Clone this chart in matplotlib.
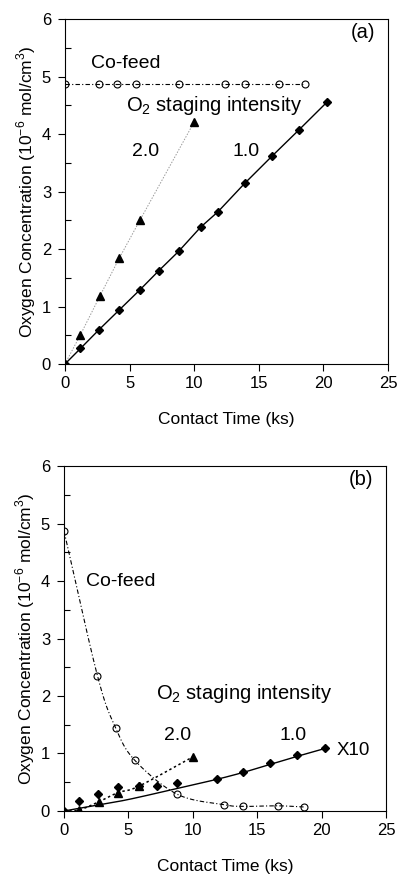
import numpy as np
import matplotlib
matplotlib.use("Agg")
import matplotlib.pyplot as plt

plt.rcParams['font.family'] = ['Liberation Sans', 'DejaVu Sans']
plt.rcParams['mathtext.fontset'] = 'custom'
plt.rcParams['mathtext.rm'] = 'Liberation Sans'

# contact times (ks)
t_cofeed = [0.0, 2.6, 4.0, 5.5, 8.8, 12.4, 13.9, 16.6, 18.6]
t_stage1 = [0.0, 1.2, 2.65, 4.2, 5.8, 7.25, 8.8, 10.5, 11.85, 13.9, 16.0, 18.1, 20.3]
t_stage2 = [0.0, 1.2, 2.7, 4.2, 5.8, 10.0]

# (a) oxygen concentration, 10^-6 mol/cm3
a_cofeed = [4.87, 4.87, 4.87, 4.87, 4.87, 4.87, 4.87, 4.87, 4.87]
a_stage1 = [0.0, 0.27, 0.60, 0.94, 1.29, 1.62, 1.96, 2.38, 2.65, 3.14, 3.61, 4.07, 4.56]
a_stage2 = [0.0, 0.51, 1.18, 1.84, 2.50, 4.21]

# (b) same quantities for the second case (staging values shown x10)
b_cofeed = [4.87, 2.35, 1.45, 0.88, 0.29, 0.11, 0.08, 0.09, 0.07]
b_t_stage1 = [0.0, 1.2, 2.65, 4.2, 5.8, 7.25, 8.8, 11.85, 13.9, 16.0, 18.1, 20.3]
b_stage1 = [0.0, 0.17, 0.29, 0.41, 0.43, 0.44, 0.48, 0.56, 0.67, 0.84, 0.97, 1.09]
b_stage2 = [0.0, 0.02, 0.16, 0.32, 0.43, 0.94]
# model curve for staging intensity 1.0
b_t_model = [0.0, 2.3, 5.0, 8.75, 11.85, 13.9, 16.0, 18.1, 20.3]
b_model = [0.0, 0.09, 0.20, 0.39, 0.55, 0.67, 0.81, 0.95, 1.09]


def smooth(x, y, n=25):
    # Catmull-Rom curve through the given points
    x = np.asarray(x, float)
    y = np.asarray(y, float)
    px = np.concatenate([[2 * x[0] - x[1]], x, [2 * x[-1] - x[-2]]])
    py = np.concatenate([[2 * y[0] - y[1]], y, [2 * y[-1] - y[-2]]])
    xs, ys = [], []
    t = np.linspace(0, 1, n, endpoint=False)
    for i in range(len(x) - 1):
        for p, out in ((px, xs), (py, ys)):
            p0, p1, p2, p3 = p[i:i + 4]
            out.append(0.5 * (2 * p1 + (-p0 + p2) * t
                              + (2 * p0 - 5 * p1 + 4 * p2 - p3) * t ** 2
                              + (-p0 + 3 * p1 - 3 * p2 + p3) * t ** 3))
    xs.append([x[-1]])
    ys.append([y[-1]])
    return np.concatenate(xs), np.concatenate(ys)


dashdot = (0, (4.0, 2.0, 1.0, 2.0))
circle_kw = dict(marker='o', ms=5, mfc='none', mec='black', mew=0.8)
diamond_kw = dict(marker='D', ms=4.2, color='black')
tri_kw = dict(marker='^', ms=5.8, color='black')

fig = plt.figure(figsize=(4.01, 8.74), dpi=100)
ax_a = fig.add_axes([0.162, 0.5835, 0.8055, 0.3947])
ax_b = fig.add_axes([0.1596, 0.0721, 0.803, 0.3947])


def style(ax):
    ax.set_xlim(0, 25)
    ax.set_ylim(0, 6)
    ax.set_xticks(np.arange(0, 26, 5))
    ax.set_yticks(np.arange(0, 7, 1))
    ax.set_yticks(np.arange(0.5, 6, 1), minor=True)
    ax.tick_params(axis='both', which='major', direction='out', length=5,
                   width=0.8, labelsize=12)
    ax.tick_params(axis='x', which='major', pad=3.5)
    ax.tick_params(axis='y', which='major', pad=5)
    ax.tick_params(axis='y', which='minor', direction='in', length=4, width=0.8)
    for s in ax.spines.values():
        s.set_linewidth(0.8)
    ax.set_xlabel('Contact Time (ks)', fontsize=12.5, labelpad=15)
    ax.set_ylabel(r'Oxygen Concentration (10$^{-6}$ mol/cm$^3$)', fontsize=12.5,
                  labelpad=3)


# panel (a)
ax_a.plot(t_stage2, a_stage2, color='#9a9a9a', lw=0.7, ls=(0, (1.5, 1.5)))
ax_a.plot(t_stage2[1:], a_stage2[1:], ls='none', **tri_kw)
ax_a.plot(t_stage1, a_stage1, lw=1.0, **diamond_kw)
ax_a.plot(t_cofeed, a_cofeed, color='black', lw=0.8, ls=dashdot, **circle_kw)
style(ax_a)
ax_a.text(24.0, 5.77, '(a)', fontsize=14.5, ha='right', va='center')
ax_a.text(4.7, 5.22, 'Co-feed', fontsize=14, ha='center', va='center')
ax_a.text(11.5, 4.5, 'O$_2$ staging intensity', fontsize=14.5, ha='center', va='center')
ax_a.text(6.2, 3.7, '2.0', fontsize=14, ha='center', va='center')
ax_a.text(14.0, 3.7, '1.0', fontsize=14, ha='center', va='center')

# panel (b)
sx, sy = smooth(t_cofeed, b_cofeed)
ax_b.plot(sx, sy, color='black', lw=0.8, ls=dashdot)
ax_b.plot(t_cofeed, b_cofeed, ls='none', **circle_kw)
sx, sy = smooth(t_stage2, b_stage2)
ax_b.plot(sx, sy, color='black', lw=1.1, ls=(0, (1.6, 1.8)))
ax_b.plot(t_stage2[1:], b_stage2[1:], ls='none', **tri_kw)
sx, sy = smooth(b_t_model, b_model)
ax_b.plot(sx, sy, color='black', lw=1.0)
ax_b.plot(b_t_stage1, b_stage1, ls='none', **diamond_kw)
style(ax_b)
ax_b.text(24.0, 5.77, '(b)', fontsize=14.5, ha='right', va='center')
ax_b.text(1.7, 4.0, 'Co-feed', fontsize=14, ha='left', va='center')
ax_b.text(14.0, 2.05, 'O$_2$ staging intensity', fontsize=14.5, ha='center', va='center')
ax_b.text(8.8, 1.32, '2.0', fontsize=14, ha='center', va='center')
ax_b.text(17.8, 1.32, '1.0', fontsize=14, ha='center', va='center')
ax_b.text(21.2, 1.05, 'X10', fontsize=13.5, ha='left', va='center')

fig.savefig('out.png', dpi=100)
